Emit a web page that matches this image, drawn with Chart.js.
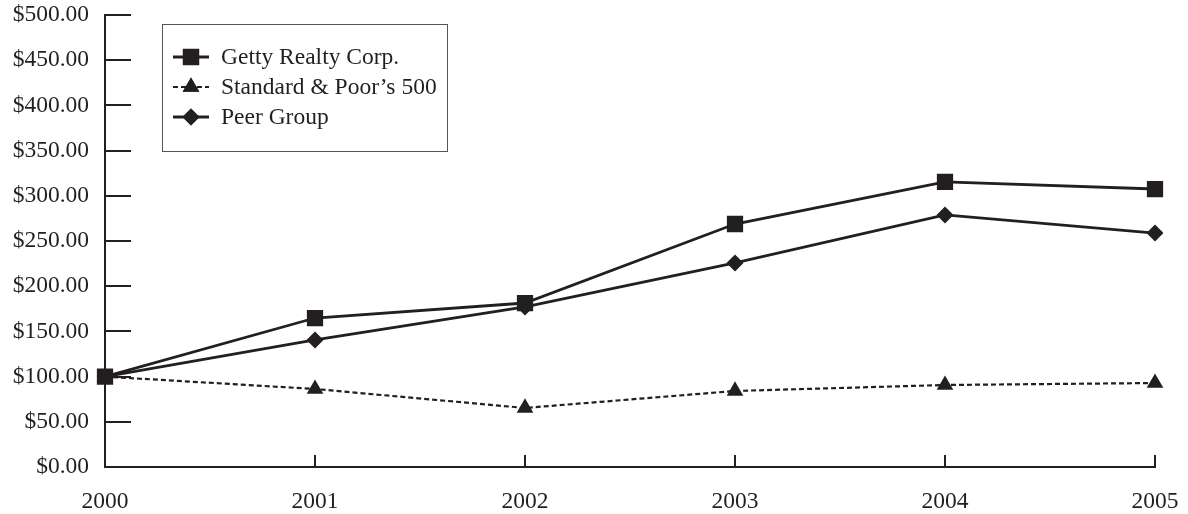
<!DOCTYPE html>
<html>
<head>
<meta charset="utf-8">
<script src="https://cdn.jsdelivr.net/npm/chart.js@4.4.1/dist/chart.umd.min.js"></script>
<style>
  html, body { margin: 0; padding: 0; background: #fff; }
  #wrap { width: 1188px; height: 514px; position: relative; }
</style>
</head>
<body>
<div id="wrap"><canvas id="myChart"></canvas></div>
<script>
const years = ['2000', '2001', '2002', '2003', '2004', '2005'];
const getty = [100, 164.8, 181.4, 268.8, 315.3, 307.5];
const sp500 = [100, 86.3, 65.3, 84.1, 90.7, 92.9];
const peer = [100, 140.5, 177.0, 225.7, 278.8, 258.8];
const seriesNames = ['Getty Realty Corp.', 'Standard & Poor\u2019s 500', 'Peer Group'];

const ink = '#231f20';
const serif = '"Liberation Serif", "DejaVu Serif", serif';
const fontSize = 23.5;

// tick marks pointing into the plot + the boxed legend
const extras = {
  id: 'extras',
  afterDatasetsDraw(chart) {
    const c = chart.ctx;
    const xs = chart.scales.x;
    const ys = chart.scales.y;
    c.save();
    c.strokeStyle = ink;
    c.lineWidth = 2;
    ys.ticks.forEach(t => {
      const y = Math.round(ys.getPixelForValue(t.value));
      c.beginPath();
      c.moveTo(xs.left, y);
      c.lineTo(xs.left + 26, y);
      c.stroke();
    });
    years.forEach((yr, i) => {
      const x = Math.round(xs.getPixelForValue(i));
      c.beginPath();
      c.moveTo(x, ys.bottom);
      c.lineTo(x, ys.bottom - 12);
      c.stroke();
    });

    // legend box
    c.lineWidth = 1;
    c.strokeStyle = '#555';
    c.fillStyle = '#fff';
    c.fillRect(162.5, 24.5, 285, 127);
    c.strokeRect(162.5, 24.5, 285, 127);

    c.font = fontSize + 'px ' + serif;
    c.textBaseline = 'middle';
    chart.data.datasets.forEach((ds, i) => {
      const y = 57 + i * 30;
      c.strokeStyle = ink;
      c.lineWidth = ds.borderWidth;
      c.setLineDash(ds.borderDash || []);
      c.beginPath();
      c.moveTo(173, y);
      c.lineTo(209, y);
      c.stroke();
      c.setLineDash([]);
      c.fillStyle = ink;
      Chart.helpers.drawPoint(c, { pointStyle: ds.pointStyle, rotation: 0, borderWidth: 0, radius: ds.pointRadius }, 191, y);
      c.fill();
      c.fillText(seriesNames[i], 221, y + 1);
    });
    c.restore();
  }
};

const ctx = document.getElementById('myChart');

new Chart(ctx, {
  type: 'line',
  data: {
    labels: years,
    datasets: [
      {
        label: seriesNames[0],
        data: getty,
        borderColor: ink,
        backgroundColor: ink,
        borderWidth: 2.8,
        pointStyle: 'rect',
        pointRadius: 11.5,
        pointBorderWidth: 0
      },
      {
        label: seriesNames[1],
        data: sp500,
        borderColor: ink,
        backgroundColor: ink,
        borderWidth: 2.2,
        borderDash: [5, 3],
        pointStyle: 'triangle',
        pointRadius: 9.6,
        pointBorderWidth: 0
      },
      {
        label: seriesNames[2],
        data: peer,
        borderColor: ink,
        backgroundColor: ink,
        borderWidth: 2.8,
        pointStyle: 'rectRot',
        pointRadius: 8.5,
        pointBorderWidth: 0
      }
    ]
  },
  options: {
    responsive: true,
    maintainAspectRatio: false,
    animation: false,
    layout: { padding: { top: 15, right: 33, bottom: 0, left: 0 } },
    plugins: {
      legend: { display: false },
      tooltip: { enabled: false }
    },
    scales: {
      x: {
        offset: false,
        grid: { display: false, drawTicks: false },
        border: { display: true, color: ink, width: 2 },
        ticks: {
          color: ink,
          font: { family: serif, size: fontSize },
          padding: 21,
          maxRotation: 0,
          autoSkip: false
        },
        afterFit: s => {
          s.height = 47;
          s.paddingLeft = 0;
          s.paddingRight = 0;
        }
      },
      y: {
        min: 0,
        max: 500,
        grid: { display: false, drawTicks: false },
        border: { display: true, color: ink, width: 2 },
        ticks: {
          stepSize: 50,
          color: ink,
          font: { family: serif, size: fontSize },
          padding: 16,
          callback: v => '$' + v.toFixed(2)
        },
        afterFit: s => {
          s.width = 105;
          s.paddingTop = 0;
          s.paddingBottom = 0;
        }
      }
    }
  },
  plugins: [extras]
});
</script>
</body>
</html>
